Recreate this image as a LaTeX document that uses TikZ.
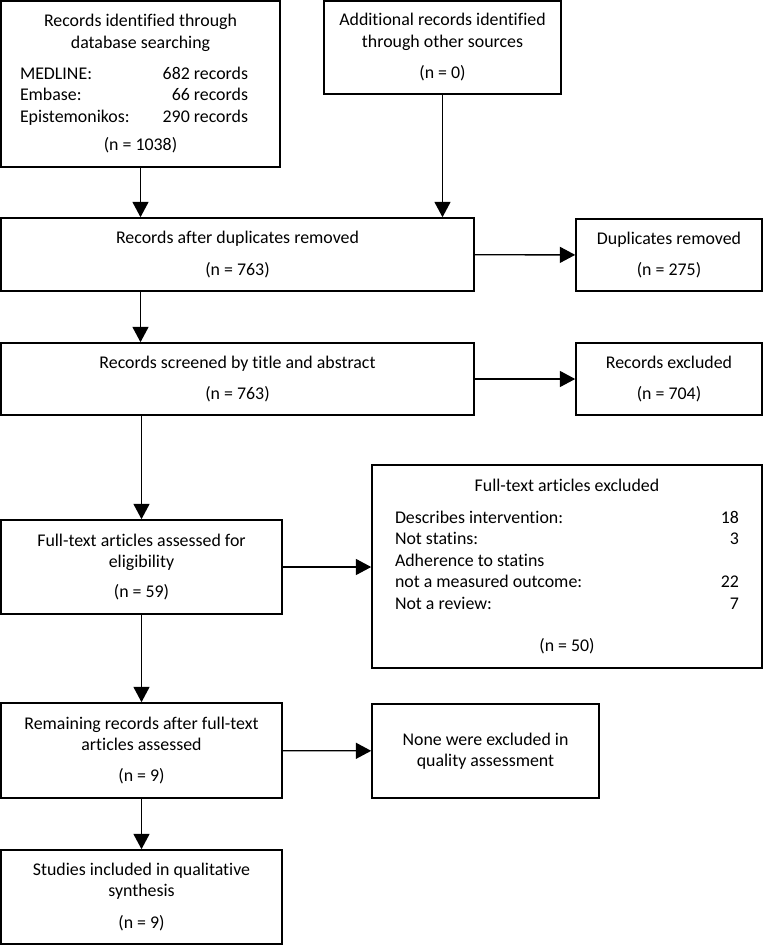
\documentclass[tikz,border=0pt]{standalone}
\usepackage{fontspec}
\setmainfont{Carlito}[Ligatures=NoCommon]
\usepackage{xcolor}
\usetikzlibrary{arrows.meta}

\newcommand{\tabrow}[3]{\makebox[#1]{#2\hfill #3}}

\begin{document}
\begin{tikzpicture}[
        x=0.75pt, y=-0.75pt,
        box/.style = {draw, line width=1.2pt, inner sep=0pt, align=center,
                      font=\fontsize{13.4}{16.1}\selectfont},
        arr/.style = {line width=1pt, -{Triangle[length=11.5pt,width=12pt]}}
    ]
        \useasboundingbox (0,0) rectangle (764,945);
        % top row
        \node[box, minimum width=209.25pt, minimum height=124.5pt] (db) at (140.5,84)
            {Records identified through\\ database searching\\[7pt]
             \makebox[180.75pt][l]{\tabrow{171pt}{MEDLINE:}{682 records}}\\
             \makebox[180.75pt][l]{\tabrow{171pt}{Embase:}{66 records}}\\
             \makebox[180.75pt][l]{\tabrow{171pt}{Epistemonikos:}{290 records}}\\[5.5pt]
             (n = 1038)};
        \node[box, minimum width=177.75pt, minimum height=69.75pt] (other) at (442.5,47.5)
            {Additional records identified\\ through other sources\\[7.5pt] (n = 0)};
        % duplicates
        \node[box, minimum width=354.75pt, minimum height=54.75pt] (dup) at (237.5,254.5)
            {Records after duplicates removed\\[7.5pt] (n = 763)};
        \node[box, minimum width=139.5pt, minimum height=54pt] (duprem) at (669,255)
            {Duplicates removed\\[7.5pt] (n = 275)};
        % screening
        \node[box, minimum width=354.75pt, minimum height=54pt] (screen) at (237.5,379)
            {Records screened by title and abstract\\[7.5pt] (n = 763)};
        \node[box, minimum width=139.5pt, minimum height=54pt] (recexcl) at (669,379)
            {Records excluded\\[7.5pt] (n = 704)};
        % eligibility
        \node[box, minimum width=210.75pt, minimum height=70.5pt] (fulltext) at (141.5,567)
            {Full-text articles assessed for\\ eligibility\\[6.5pt] (n = 59)};
        \node[box, minimum width=292.5pt, minimum height=152.25pt] (ftexcl) at (567,566.5)
            {Full-text articles excluded\\[7.5pt]
             \tabrow{258pt}{Describes intervention:}{18}\\
             \tabrow{258pt}{Not statins:}{3}\\
             \tabrow{258pt}{Adherence to statins}{}\\
             \tabrow{258pt}{not a measured outcome:}{22}\\
             \tabrow{258pt}{Not a review:}{7}\\[15.5pt]
             (n = 50)};
        % quality
        \node[box, minimum width=210.75pt, minimum height=71.25pt] (remain) at (141.5,750.5)
            {Remaining records after full-text\\ articles assessed\\[7pt] (n = 9)};
        \node[box, minimum width=170.25pt, minimum height=70.5pt] (none) at (485.5,751)
            {None were excluded in\\ quality assessment};
        % included
        \node[box, minimum width=210.75pt, minimum height=70.5pt] (studies) at (141.5,897)
            {Studies included in qualitative\\ synthesis\\[7.5pt] (n = 9)};

        % connectors
        \draw[arr] (db) -- (db |- dup.north);
        \draw[arr] (other) -- (other |- dup.north);
        \draw[arr] (dup) -- (duprem);
        \draw[arr] (db |- dup.south) -- (db |- screen.north);
        \draw[arr] (screen) -- (recexcl);
        \draw[arr] (fulltext |- screen.south) -- (fulltext.north);
        \draw[arr] (fulltext.east) -- (fulltext.east -| ftexcl.west);
        \draw[arr] (fulltext) -- (remain);
        \draw[arr] (remain) -- (none);
        \draw[arr] (remain) -- (studies);
    \end{tikzpicture}
\end{document}
